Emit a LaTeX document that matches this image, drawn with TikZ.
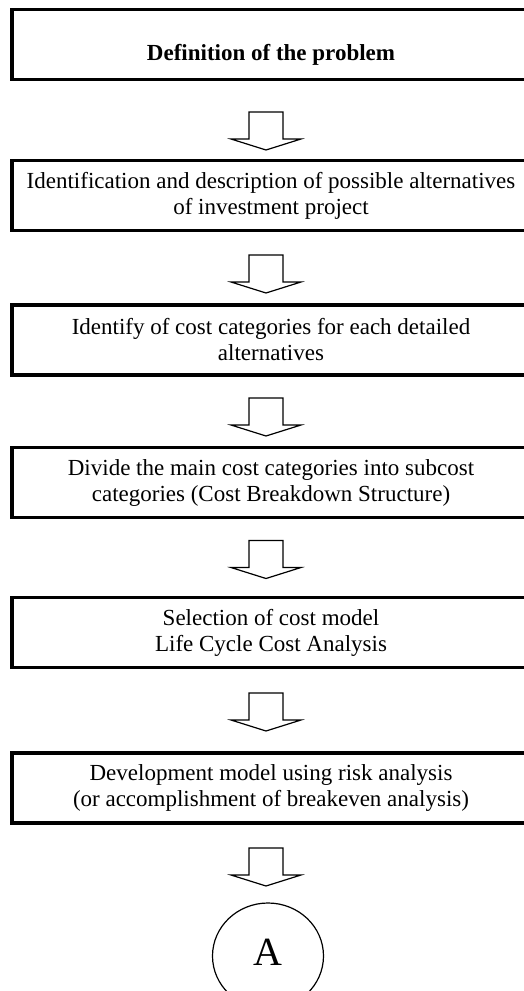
\documentclass[tikz,border=0pt]{standalone}
\usepackage{fontspec}
\setmainfont{Liberation Serif}
\usetikzlibrary{calc,shapes.geometric}

\begin{document}
\begin{tikzpicture}[x=1pt,y=-1pt]
      \tikzset{stage/.style={draw, line width=3.5pt, outer sep=0pt, inner sep=0pt, minimum width=518pt, minimum height=70pt, align=center, font=\fontsize{23}{26}\selectfont},
               blockarrow/.pic={\draw[line width=1.2pt] (-17,-19) -- (-17,8) -- (-35,8) -- (0,19) -- (35,8) -- (17,8) -- (17,-19) -- cycle;}}
      \useasboundingbox (0,0) rectangle (524,991);
%% Boxes
      \node[stage] (b1) at (271,44.5) {};
      \node[anchor=base, font=\fontsize{23}{26}\selectfont\bfseries] (t1) at (271,60) {Definition of the problem};
      \node[stage] (b2) at (271,195.5) {Identification and description of possible alternatives\\of investment project};
      \node[stage] (b3) at (271,340) {Identify of cost categories for each detailed\\alternatives};
      \node[stage] (b4) at (271,482.5) {Divide the main cost categories into subcost\\categories (Cost Breakdown Structure)};
      \node[stage] (b5) at (271,632.5) {Selection of cost model\\Life Cycle Cost Analysis};
      \node[stage] (b6) at (271,788) {Development model using risk analysis\\(or accomplishment of breakeven analysis)};
%% Connector
      \node[draw, ellipse, line width=1.2pt, minimum width=111pt, minimum height=106pt, inner sep=0pt, text depth=8pt, font=\fontsize{40}{40}\selectfont] (a) at (268,956) {A};
%% Arrows
      \pic at ($(b1.south)+(-5,51.5)$) {blockarrow};
      \pic at ($(b2.south)+(-5,43.5)$) {blockarrow};
      \pic at ($(b3.south)+(-5,42)$) {blockarrow};
      \pic at ($(b4.south)+(-5,42)$) {blockarrow};
      \pic at ($(b5.south)+(-5,44.5)$) {blockarrow};
      \pic at ($(b6.south)+(-5,44)$) {blockarrow};
\end{tikzpicture}
\end{document}
